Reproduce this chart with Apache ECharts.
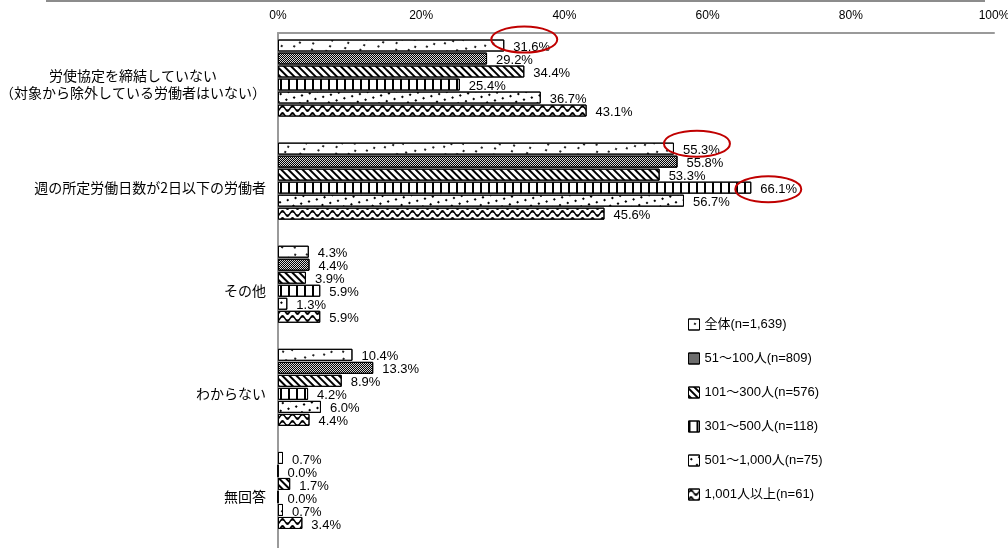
<!DOCTYPE html>
<html>
<head>
<meta charset="utf-8">
<script src="https://cdn.jsdelivr.net/npm/echarts@6/dist/echarts.min.js"></script>
<style>
  html, body { margin: 0; padding: 0; background: #fff; }
  #chart { width: 1008px; height: 548px; }
</style>
</head>
<body>
<div id="chart"></div>
<script>
// Response categories (top to bottom)
const categories = [
  '労使協定を締結していない\n（対象から除外している労働者はいない）',
  '週の所定労働日数が2日以下の労働者',
  'その他',
  'わからない',
  '無回答'
];

// Respondent groups by company size
const seriesNames = [
  '全体(n=1,639)',
  '51～100人(n=809)',
  '101～300人(n=576)',
  '301～500人(n=118)',
  '501～1,000人(n=75)',
  '1,001人以上(n=61)'
];

// Share of respondents (%) per category, one array per group
const total      = [31.6, 55.3, 4.3, 10.4, 0.7];
const size51     = [29.2, 55.8, 4.4, 13.3, 0.0];
const size101    = [34.4, 53.3, 3.9, 8.9, 1.7];
const size301    = [25.4, 66.1, 5.9, 4.2, 0.0];
const size501    = [36.7, 56.7, 1.3, 6.0, 0.7];
const size1001   = [43.1, 45.6, 5.9, 4.4, 3.4];

// Highlighted bars: [series index, category index, ring offset x, ring offset y]
const highlights = [
  [0, 0, 20, -6],
  [0, 1, 23, -5],
  [3, 1, 17, 1.5]
];

const valueSets = [total, size51, size101, size301, size501, size1001];

const SANS = "'Liberation Sans', 'Noto Sans CJK JP', sans-serif";
const JP = "'Noto Sans CJK JP', sans-serif";

// Monochrome fill patterns, one per group
const patterns = [
  { fill: '#ffffff', decal: { symbol: 'rect', symbolSize: 1, color: '#222',
      dashArrayX: [[1.5, 12], [0, 6.75, 1.5, 5.25]], dashArrayY: [1.5, 3.5] } },
  { fill: '#d8d8d8', decal: { symbol: 'rect', symbolSize: 1, color: '#000',
      dashArrayX: [[1, 1], [0, 1, 1, 0]], dashArrayY: [1, 0] } },
  { fill: '#ffffff', decal: { symbol: 'rect', symbolSize: 1, color: '#000',
      dashArrayX: [1, 0], dashArrayY: [1.8, 2.6], rotation: Math.PI / 4 } },
  { fill: '#ffffff', decal: { symbol: 'rect', symbolSize: 1, color: '#000',
      dashArrayX: [1.5, 6], dashArrayY: [1, 0] } },
  { fill: '#ffffff', decal: { symbol: 'rect', symbolSize: 1, color: '#000',
      dashArrayX: [[1.5, 5.5], [0, 3.5, 1.5, 2]], dashArrayY: [1.5, 4.5], rotation: Math.PI / 4 } },
  { fill: '#ffffff', decal: { symbol: 'path://M0,3 Q2.5,0 5,3 T10,3 L10,4.6 Q7.5,7.6 5,4.6 T0,4.6 Z',
      symbolSize: 1, symbolKeepAspect: false, color: '#000',
      dashArrayX: [10, 0], dashArrayY: [7, 0] } }
];

const chart = echarts.init(document.getElementById('chart'), null, { renderer: 'canvas' });

const barSeries = seriesNames.map((name, i) => ({
  name: name,
  type: 'bar',
  data: valueSets[i],
  barWidth: 12,
  barGap: '8.4%',
  itemStyle: {
    color: patterns[i].fill,
    borderColor: '#000',
    borderWidth: 1,
    decal: patterns[i].decal
  },
  label: {
    show: true,
    position: 'right',
    distance: 9,
    offset: [0, 2],
    color: '#000',
    fontSize: 13,
    fontFamily: SANS,
    formatter: p => p.value.toFixed(1) + '%'
  },
  emphasis: { disabled: true },
  animation: false
}));

// empty trailing slot keeps the Excel-style spacing below each group
barSeries.push({
  name: 'spacer',
  type: 'bar',
  data: [],
  barWidth: 12,
  silent: true,
  animation: false
});

chart.setOption({
  animation: false,
  aria: { enabled: true, decal: { show: true } },
  grid: { left: 278, right: 14, top: 33, height: 515.5, containLabel: false, outerBoundsMode: 'none' },
  xAxis: {
    type: 'value',
    position: 'top',
    min: 0,
    max: 100,
    interval: 20,
    axisLine: { show: true, lineStyle: { color: '#9a9a9a', width: 2 } },
    axisTick: { show: false },
    splitLine: { show: false },
    axisLabel: {
      margin: 11,
      color: '#000',
      fontSize: 12,
      fontFamily: SANS,
      formatter: '{value}%'
    }
  },
  yAxis: {
    type: 'category',
    inverse: true,
    data: categories,
    axisLine: { show: true, lineStyle: { color: '#9a9a9a', width: 2 } },
    axisTick: { show: false },
    axisLabel: {
      margin: 12,
      color: '#000',
      fontSize: 14,
      fontFamily: JP,
      lineHeight: 17,
      formatter: v => {
        const lines = v.split('\n');
        if (lines.length === 1) return v;
        return lines.map(l => '{c|' + l + '}').join('\n');
      },
      rich: {
        c: { align: 'center', fontSize: 14, lineHeight: 17, fontFamily: JP, color: '#000' }
      }
    }
  },
  legend: {
    data: seriesNames,
    orient: 'vertical',
    left: 683,
    top: 313,
    icon: 'rect',
    itemWidth: 11,
    itemHeight: 11,
    itemGap: 21,
    itemTextGap: 11,
    selectedMode: false,
    itemStyle: { borderWidth: 1, borderColor: '#000' },
    textStyle: { color: '#000', fontSize: 13, fontFamily: SANS }
  },
  series: barSeries
});

// red rings drawn around the highlighted bar ends
const ringEls = highlights.map(([s, c, dx, dy]) => {
  const layout = chart.getModel().getSeriesByIndex(s).getData().getItemLayout(c);
  const endX = layout.x + layout.width;
  const midY = layout.y + layout.height / 2;
  return {
    type: 'ellipse',
    shape: { cx: endX + dx, cy: midY + dy, rx: 33, ry: 13 },
    style: { fill: 'none', stroke: '#c00000', lineWidth: 2 },
    silent: true,
    z: 100
  };
});

chart.setOption({
  graphic: [
    { type: 'line', shape: { x1: 46, y1: 1, x2: 985, y2: 1 },
      style: { stroke: '#8c8c8c', lineWidth: 2 }, silent: true }
  ].concat(ringEls)
});
</script>
</body>
</html>
